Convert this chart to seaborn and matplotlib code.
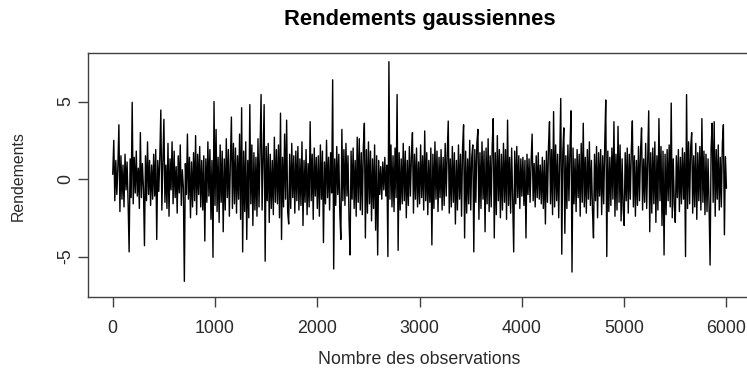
import numpy as np
import pandas as pd
import matplotlib
matplotlib.use("Agg")
import matplotlib.pyplot as plt
import seaborn as sns

# ---- data: returns (one value every ~10 observations) ----
r00 = [0.3, 2.5, -1.4, 1.2, -1.0, 0.8, 3.5, -2.1, 1.5, -1.3, 0.9, -1.8, 1.6, -0.7, 1.1, -1.5, -4.7, 1.3, -1.2, 4.95]
r01 = [-1.6, 1.4, -0.9, 1.8, -1.1, 0.7, -1.9, 3.0, -1.2, 1.0, -0.6, -4.3, 1.5, -1.4, 2.4, -1.0, 1.2, -1.7, 0.9, -1.3]
r02 = [1.6, -1.1, 1.9, -3.9, 1.2, -0.8, 1.4, 4.45, -2.0, 1.1, 3.85, -1.5, 0.9, -1.9, 2.3, -2.4, 1.3, -0.7, 2.4, -1.6]
r03 = [1.8, -1.2, 0.8, -2.2, 1.5, -0.9, 2.2, -1.7, 0.6, -0.5, -6.6, 1.0, -1.0, 2.9, -1.3, 1.4, -2.5, 1.1, -1.8, 1.7]
r04 = [-1.4, 2.8, -2.3, 1.6, -1.0, 2.1, -1.8, 1.2, -2.0, 1.5, -4.0, 1.3, -1.5, 2.4, -1.1, 1.9, -2.6, 1.2, -5.05, 5.0]
r05 = [-1.7, 3.2, -2.1, 1.4, -2.8, 2.2, -1.5, 1.8, -3.4, 1.3, -2.0, 2.6, -1.2, 1.9, -2.4, 1.1, 4.0, -1.9, 2.3, -1.6]
r06 = [2.0, -2.2, 1.5, -1.3, 2.9, -2.6, 4.6, -4.7, 1.8, -2.1, 2.4, -3.9, 1.2, -2.5, 4.8, -1.6, 2.2, -3.0, 1.7, -2.0]
r07 = [1.4, -2.4, 2.6, -1.8, 1.9, 5.45, -2.0, 1.3, 4.8, -5.3, 2.1, -1.4, 2.3, -2.8, 1.6, -1.9, 1.2, -2.3, 2.7, -1.5]
r08 = [1.9, -1.6, 2.2, -2.5, 4.25, -3.9, 1.4, -1.8, 2.9, -1.3, 3.8, -2.1, -2.9, 1.6, -1.9, 2.3, -1.2, 1.5, -2.2, 1.8]
r09 = [-1.4, 2.1, -2.0, 1.3, -1.7, 2.4, -3.0, 1.2, -1.5, 1.9, -2.3, 1.0, -1.8, 3.7, -1.4, 1.6, -2.6, 2.0, -1.1, 1.4]
r10 = [-1.9, 1.5, -2.4, 2.2, -1.3, 1.8, -4.1, 1.1, -1.6, 2.5, -1.2, 1.4, -2.0, 1.7, -0.9, 6.4, -5.8, 1.3, -1.7, 2.1]
r11 = [-1.0, 1.6, -2.2, -3.9, 3.2, -1.4, 1.9, -1.7, 2.3, -1.1, 1.5, -2.6, -4.9, 1.8, -1.3, 2.0, -1.9, 1.2, -2.4, 2.7]
r12 = [-1.5, 2.6, -2.0, 1.7, -2.3, 2.1, 3.6, -3.8, 1.9, -2.2, 2.4, -1.6, 1.8, -2.7, 1.3, -1.9, 2.2, -3.3, 1.5, -4.9]
r13 = [1.2, -1.0, 0.8, -1.3, 1.1, -0.7, 1.4, -1.1, 0.9, -5.0, 7.57, -1.3, 2.2, -1.8, 1.5, -2.1, 2.0, -1.2, 5.45, -4.6]
r14 = [1.7, -2.0, 1.3, -1.6, 2.3, -1.4, 1.8, -2.5, 1.2, -1.7, 2.1, -1.1, 1.5, 3.0, -2.2, 1.6, -1.3, 2.0, -1.8, 1.1]
r15 = [-1.6, 2.2, -1.2, 1.5, -2.0, 3.1, -1.4, 1.7, -2.3, 1.2, -1.5, 2.0, -4.25, 1.6, -1.9, 2.4, -1.3, 1.8, -2.1, 1.4]
r16 = [-1.2, 1.9, -2.0, 1.4, -1.7, 2.3, -1.1, 1.6, 3.74, -2.2, 1.3, -1.8, 2.1, -1.5, 1.7, -2.9, 1.2, -2.0, 2.2, -1.3]
r17 = [1.6, -2.4, 2.0, 3.5, -3.8, 1.8, -2.2, 1.3, -1.6, 2.5, -2.0, 1.4, 2.2, -4.7, 1.9, -1.5, 2.3, 3.2, -2.6, 1.7]
r18 = [-1.9, 2.4, -1.3, 1.8, -3.4, 2.0, -1.6, 2.6, -2.1, 1.5, -1.8, 2.2, 3.9, -3.8, 1.7, -2.3, 2.8, -1.4, 1.9, -2.5]
r19 = [1.6, -2.0, 2.3, -1.5, 1.9, -2.6, 3.8, -1.7, 1.4, -2.2, 2.0, -1.3, -4.7, 1.8, -1.6, 2.1, -1.2, 1.5, -1.9, 1.3]
r20 = [-1.1, 1.4, -1.7, 1.2, -3.8, 1.6, -1.0, 1.3, -1.5, 1.1, 2.9, -1.4, 1.0, -1.8, 1.5, -1.2, 1.7, -1.3, 0.9, -1.6]
r21 = [1.4, -1.9, 1.2, -2.9, 1.8, -1.5, 2.1, 3.7, -1.6, 1.9, -2.3, 4.35, -1.8, 2.2, -1.4, 1.6, -2.5, 1.3, 5.2, -4.85]
r22 = [1.7, 3.3, -3.5, 1.5, -1.9, 2.2, -1.4, 1.8, 4.4, -6.0, 2.0, -1.6, 1.3, -2.1, 1.9, -1.2, 1.6, -2.4, 2.3, -1.5]
r23 = [3.6, -1.8, 1.4, -2.2, 1.9, -1.3, 2.4, -1.7, 1.2, -2.0, -3.8, 1.6, -1.4, 2.1, -2.5, 1.7, -1.1, 1.9, -2.3, 1.5]
r24 = [-1.6, 2.2, 5.1, -5.0, 1.8, -2.1, 1.4, -1.7, 2.0, -1.3, 3.7, -2.4, 1.6, -2.0, 3.4, -1.5, 2.2, -2.7, 1.3, -1.9]
r25 = [-3.0, 1.7, -1.4, 2.0, -2.2, 1.6, -1.3, 1.9, 3.75, -1.8, 1.5, -2.4, 1.2, -1.7, 2.1, -1.4, 1.8, 3.3, -2.0, 1.3]
r26 = [-1.5, 2.3, -1.9, 1.4, 4.4, -3.4, 1.7, -2.2, 2.0, -1.6, 2.4, -2.8, 1.5, -2.0, 3.9, -1.4, 2.1, -3.0, 1.8, -4.9]
r27 = [1.6, -2.3, 1.9, -1.4, 2.2, -1.8, 4.9, -2.5, 1.3, -1.7, -2.8, 1.5, -1.2, 1.9, -2.1, 1.4, -1.6, 2.0, -1.3, 1.7]
r28 = [-5.0, 5.45, -1.9, 2.4, -1.6, 2.0, 3.0, -2.2, 1.5, -1.8, 2.3, -2.6, 1.7, -1.4, 2.1, -2.0, 3.9, -1.5, 1.8, -2.3]
r29 = [1.6, -2.1, 1.3, -1.7, -5.55, 2.0, 3.6, -1.5, 3.7, -2.4, 1.9, -1.3, 2.2, -2.0, 1.4, -1.8, 2.3, 3.5, -3.6, 1.45, -0.6]

rendements = (r00 + r01 + r02 + r03 + r04 + r05 + r06 + r07 + r08 + r09 +
              r10 + r11 + r12 + r13 + r14 + r15 + r16 + r17 + r18 + r19 +
              r20 + r21 + r22 + r23 + r24 + r25 + r26 + r27 + r28 + r29)
observations = np.linspace(1, 6000, len(rendements))

x_ticks = [0, 1000, 2000, 3000, 4000, 5000, 6000]
y_ticks = [-5, 0, 5]
title = "Rendements gaussiennes"
x_label = "Nombre des observations"
y_label = "Rendements"

df = pd.DataFrame({"obs": observations, "rend": rendements})

# ---- style ----
sns.set_style("white")
plt.rcParams["font.family"] = ["Liberation Sans", "DejaVu Sans"]
text_col = "#2a2a2a"
axis_col = "#404040"

W, H = 747, 371
fig = plt.figure(figsize=(W / 100, H / 100), dpi=100)
fig.patch.set_facecolor("white")
ax = fig.add_axes([88.1 / W, (H - 297) / H, (751 - 88.1) / W, (297 - 53) / H])

sns.lineplot(data=df, x="obs", y="rend", color="black", linewidth=1.0,
             estimator=None, ax=ax)

ax.set_xlim(-240, 6240)
ax.set_ylim(-7.61, 8.13)
ax.set_xticks(x_ticks)
ax.set_xticklabels([str(t) for t in x_ticks])
ax.set_yticks(y_ticks)
ax.set_yticklabels([str(t) for t in y_ticks])

for s in ax.spines.values():
    s.set_visible(True)
    s.set_color(axis_col)
    s.set_linewidth(1.0)

ax.tick_params(axis="both", which="major", direction="out", length=7.2,
               width=1.0, color=axis_col, labelcolor=text_col, labelsize=12.8)
ax.tick_params(axis="x", pad=9.4, bottom=True)
ax.tick_params(axis="y", pad=2.5, left=True, labelrotation=90)
for lab in ax.get_yticklabels():
    lab.set_va("center")

ax.set_xlabel("")
ax.set_ylabel("")

fig.text(419.5 / W, 1 - 25 / H, title, ha="center", va="baseline",
         fontsize=15.8, fontweight="bold", color="black")
fig.text(419.5 / W, 1 - 359 / H, x_label, ha="center", va="center",
         fontsize=12.8, color=text_col)
fig.text(18 / W, 1 - 176 / H, y_label, ha="center", va="center",
         rotation=90, fontsize=11.4, color=text_col)

fig.savefig("out.png", dpi=100)
